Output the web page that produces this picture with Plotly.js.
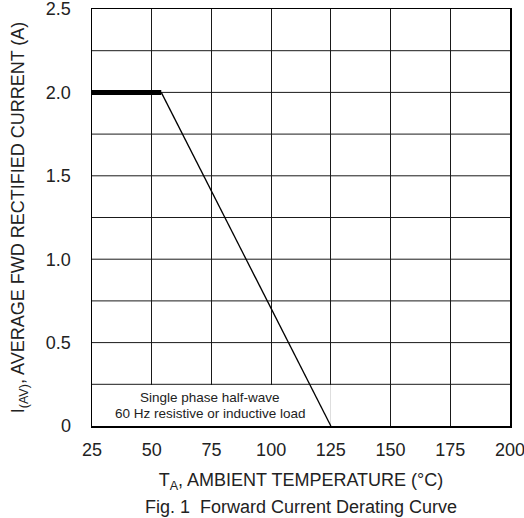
<!DOCTYPE html>
<html><head><meta charset="utf-8">
<script src="https://cdn.plot.ly/plotly-3.0.1.min.js"></script>
<style>html,body{margin:0;padding:0;background:#fff}#c{width:524px;height:518px}</style>
</head><body><div id="c"></div>
<script>
// Rated (flat) segment
const flatTemp = [25, 54];
const flatCurrent = [2.0, 2.0];
// Derating segment
const derateTemp = [54, 125];
const derateCurrent = [2.0, 0];
const xTicks = [25, 50, 75, 100, 125, 150, 175, 200];
const yTickVals = [0, 0.5, 1.0, 1.5, 2.0, 2.5];
const yTickText = ['0', '0.5', '1.0', '1.5', '2.0', '2.5'];
const noteLines = ['Single phase half-wave', '60 Hz resistive or inductive load'];

const font = {family: 'Liberation Sans, Arial, sans-serif', color: '#222'};
const traces = [
  {x: flatTemp, y: flatCurrent, mode: 'lines', line: {color: '#000', width: 5}, hoverinfo: 'skip'},
  {x: derateTemp, y: derateCurrent, mode: 'lines', line: {color: '#000', width: 1.3}, hoverinfo: 'skip'}
];
const layout = {
  width: 524, height: 518,
  margin: {l: 92, r: 14, t: 9, b: 92},
  showlegend: false,
  paper_bgcolor: '#fff', plot_bgcolor: '#fff',
  font: Object.assign({size: 18}, font),
  xaxis: {
    range: [25, 200], tickvals: xTicks, ticktext: xTicks.map(String),
    showgrid: true, gridcolor: '#1a1a1a', gridwidth: 1,
    showline: true, linecolor: '#000', linewidth: 1.5, mirror: true,
    zeroline: false, ticks: '', ticklabelstandoff: 7, ticklabeloverflow: 'allow',
    tickfont: Object.assign({size: 18}, font),
    title: {text: 'T<sub>A</sub>, AMBIENT TEMPERATURE (°C)', font: Object.assign({size: 18}, font), standoff: 14}
  },
  yaxis: {
    range: [0, 2.5], tickvals: yTickVals, ticktext: yTickText,
    showgrid: false,
    showline: true, linecolor: '#000', linewidth: 1.5, mirror: true,
    zeroline: false, ticks: '', ticklabelstandoff: 16, ticklabeloverflow: 'allow',
    tickfont: Object.assign({size: 18}, font),
    title: {text: 'I<sub>(AV)</sub>, AVERAGE FWD RECTIFIED CURRENT (A)', font: Object.assign({size: 18}, font), standoff: 16}
  },
  shapes: [],
  annotations: [
    {xref: 'x', yref: 'y', x: 74.5, y: 0.168, text: noteLines[0], showarrow: false, font: Object.assign({size: 13.5}, font)},
    {xref: 'x', yref: 'y', x: 74.5, y: 0.072, text: noteLines[1], showarrow: false, font: Object.assign({size: 13.5}, font)},
    {xref: 'paper', yref: 'paper', x: 0.5, y: 0, yshift: -81, yanchor: 'middle', text: 'Fig. 1  Forward Current Derating Curve', showarrow: false, font: Object.assign({size: 18}, font)}
  ]
};
// horizontal grid lines every 0.25 (drawn as shapes so the note box can interrupt them)
const gridY = [0.25, 0.5, 0.75, 1.0, 1.25, 1.5, 1.75, 2.0, 2.25];
gridY.forEach(v => layout.shapes.push({type: 'line', xref: 'x', yref: 'y', x0: 25, x1: 200, y0: v, y1: v, line: {color: '#1a1a1a', width: 1}, layer: 'between'}));
// white note box over grid
layout.shapes.push({type: 'rect', xref: 'x', yref: 'y', x0: 25, x1: 125, y0: 0, y1: 0.246, fillcolor: '#fff', line: {width: 0}, layer: 'between'});
Plotly.newPlot('c', traces, layout, {staticPlot: true});
</script></body></html>
